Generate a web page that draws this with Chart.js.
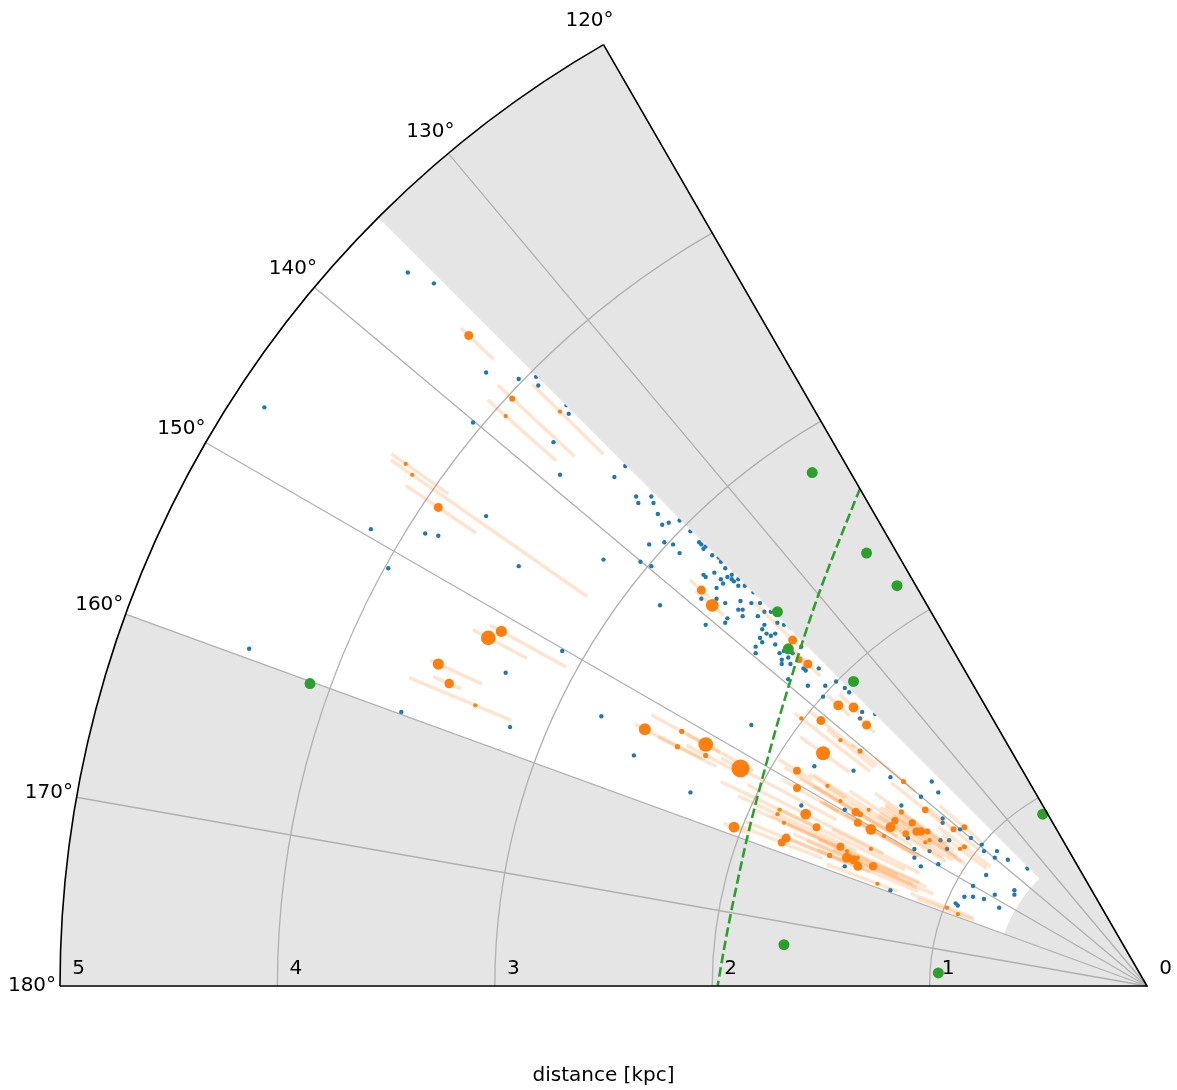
<!DOCTYPE html>
<html>
<head>
<meta charset="utf-8">
<script src="https://cdn.jsdelivr.net/npm/chart.js@4.4.0/dist/chart.umd.min.js"></script>
<style>
  html, body { margin: 0; padding: 0; background: #ffffff; overflow: hidden; }
  canvas { display: block; }
</style>
</head>
<body>
<canvas id="c" width="1177" height="1090"></canvas>
<script>
// Heliocentric positions in the Galactic plane, kpc: x = d cos l, y = d sin l

// field stars
const fieldX = [-3.40,-3.28,-4.06,-3.04,-2.89,-2.81,-2.80,-2.67,-2.66,-3.10,-2.73,-2.70,-3.57,-3.04,-3.32,-3.26,-3.49,-2.89,-4.13,-2.69,
  -2.95,-3.43,-2.93,-2.51,-2.45,-2.35,-2.28,-2.34,-2.27,-2.25,-2.20,-2.23,-2.10,-2.06,-2.05,-2.29,-2.22,-2.18,-2.04,-2.03,
  -2.15,-2.00,-1.97,-2.33,-2.28,-1.96,-1.94,-2.04,-2.03,-1.99,-1.96,-1.93,-1.91,-1.91,-1.88,-1.90,-1.95,-1.98,-1.88,-1.85,
  -1.81,-2.05,-1.98,-1.94,-1.87,-1.82,-2.24,-2.50,-2.03,-1.88,-1.86,-1.86,-1.93,-1.94,-1.78,-1.79,-1.76,-1.76,-1.77,-1.75,
  -1.78,-1.77,-1.73,-1.71,-1.70,-1.67,-1.71,-1.80,-1.80,-1.69,-1.63,-1.65,-1.59,-1.73,-1.67,-1.68,-1.68,-1.64,-1.58,-1.57,
  -1.51,-1.65,-1.56,-1.48,-1.43,-1.49,-1.39,-1.37,-1.42,-1.31,-1.32,-1.25,-1.53,-1.35,-1.18,-0.99,-0.96,-1.04,-1.82,-2.36,
  -2.10,-1.59,-1.39,-1.13,-0.94,-0.94,-0.86,-0.81,-1.10,-0.95,-0.91,-0.76,-0.75,-1.07,-1.00,-0.92,-0.69,-0.70,-0.64,-1.07,
  -0.96,-1.04,-1.39,-0.74,-0.55,-0.80,-0.70,-0.61,-0.61,-0.84,-0.80,-0.75,-1.18,-0.88,-0.87,-0.68,-2.15,-2.40];
const fieldY = [3.28,3.23,2.66,2.82,2.79,2.80,2.76,2.67,2.63,2.59,2.50,2.35,2.10,2.16,2.08,2.07,1.92,1.93,1.55,1.54,
  1.44,1.26,1.19,1.24,2.34,2.25,2.25,2.22,2.22,2.17,2.13,2.12,2.09,2.04,2.03,2.03,2.04,2.03,2.01,2.02,
  1.99,1.98,1.97,1.95,1.93,1.95,1.92,1.89,1.88,1.90,1.87,1.88,1.87,1.89,1.87,1.86,1.85,1.83,1.84,1.84,
  1.81,1.78,1.78,1.76,1.77,1.76,1.75,1.96,1.66,1.73,1.73,1.70,1.69,1.67,1.76,1.70,1.72,1.66,1.64,1.62,
  1.60,1.58,1.61,1.62,1.67,1.66,1.57,1.56,1.53,1.53,1.53,1.51,1.56,1.72,1.54,1.50,1.48,1.48,1.46,1.45,
  1.46,1.41,1.38,1.38,1.40,1.33,1.37,1.35,1.28,1.26,1.23,1.25,1.01,0.99,0.96,0.94,0.89,0.87,1.20,1.06,
  0.89,0.83,0.81,0.83,0.77,0.75,0.72,0.68,0.68,0.67,0.67,0.65,0.62,0.63,0.62,0.63,0.62,0.59,0.58,0.59,
  0.56,0.55,0.55,0.51,0.54,0.46,0.42,0.44,0.42,0.41,0.41,0.40,0.44,0.38,0.37,0.36,2.14,2.39];

// open clusters: position, distance uncertainty (kpc, towards / away from the Sun), number of members
const clusterX = [-3.12,-2.92,-2.95,-2.70,-3.41,-3.38,-3.26,-3.03,-2.97,-3.26,-3.21,-3.09,-2.31,-2.14,-2.03,-2.16,-2.03,-1.87,-1.90,-2.05,
  -2.00,-1.63,-1.60,-1.56,-1.42,-1.35,-1.29,-1.50,-1.59,-1.49,-1.41,-1.32,-1.61,-1.61,-1.47,-1.12,-1.41,-1.69,-1.70,-1.57,
  -1.67,-1.52,-1.34,-1.32,-1.33,-1.28,-1.27,-1.16,-1.18,-1.21,-1.66,-1.68,-1.41,-1.38,-1.38,-1.35,-1.33,-1.26,-1.46,-1.33,
  -1.27,-1.24,-1.13,-1.02,-1.08,-1.11,-1.06,-1.04,-1.01,-0.89,-0.84,-0.84,-0.86,-1.00,-1.02,-0.92,-0.87];
const clusterY = [2.99,2.70,2.62,2.64,2.40,2.35,2.20,1.60,1.63,1.48,1.39,1.29,1.18,1.17,1.11,1.10,1.06,1.00,0.73,1.82,
  1.75,1.59,1.50,1.48,1.29,1.28,1.20,1.22,1.23,1.07,1.13,1.08,0.99,0.91,0.92,0.94,0.85,0.81,0.79,0.79,
  0.75,0.73,0.80,0.79,0.75,0.81,0.72,0.76,0.73,0.69,0.68,0.66,0.64,0.62,0.59,0.58,0.55,0.55,0.60,0.59,
  0.63,0.47,0.80,0.81,0.75,0.70,0.71,0.71,0.71,0.72,0.73,0.64,0.63,0.67,0.66,0.36,0.33];
const clusterErrLo = [0.16,0.39,0.31,0.28,0.24,0.98,0.21,0.20,0.34,0.22,0.06,0.18,0.30,0.20,0.25,0.20,0.15,0.50,0.08,0.05,
  0.07,0.05,0.05,0.08,0.07,0.04,0.05,0.20,0.40,0.15,0.20,0.10,0.08,0.22,0.10,0.07,0.25,0.20,0.40,0.40,
  0.30,0.45,0.30,0.20,0.30,0.20,0.25,0.20,0.30,0.20,0.30,0.20,0.40,0.40,0.35,0.40,0.30,0.20,0.20,0.20,
  0.25,0.10,0.25,0.10,0.20,0.20,0.25,0.20,0.15,0.15,0.10,0.15,0.15,0.20,0.15,0.13,0.08];
const clusterErrHi = [0.05,0.09,0.11,0.18,0.08,0.12,0.18,0.08,0.06,0.04,0.08,0.33,0.05,0.16,0.10,0.10,0.10,0.10,0.05,0.07,
  0.10,0.25,0.05,0.10,0.07,0.09,0.05,0.08,0.04,0.13,0.08,0.05,0.10,0.08,0.10,0.17,0.30,0.30,0.20,0.30,
  0.15,0.20,0.30,0.25,0.20,0.30,0.25,0.25,0.35,0.20,0.20,0.20,0.35,0.30,0.20,0.30,0.20,0.20,0.20,0.20,
  0.20,0.25,0.15,0.20,0.15,0.15,0.20,0.20,0.15,0.15,0.15,0.15,0.10,0.20,0.25,0.18,0.20];
const clusterMembers = [9,4,2,2,2,2,9,24,14,14,10,2,16,3,24,3,3,36,13,9,
  18,9,5,9,11,11,9,9,2,22,2,3,7,7,2,3,2,2,2,13,
  2,7,8,4,7,2,13,6,11,2,9,7,7,2,11,9,9,8,3,2,
  2,2,3,5,6,5,8,8,4,4,4,3,2,2,2,2,2];

// masers
const maserX = [-1.54,-1.29,-1.15,-1.70,-1.65,-1.35,-0.48,-1.67,-0.96,-3.85];
const maserY = [2.36,1.99,1.84,1.72,1.55,1.40,0.79,0.19,0.06,1.39];

// Perseus arm trace: longitude (deg) and heliocentric distance (kpc)
const armLon  = [120, 125, 130, 135, 140, 145, 150, 155, 160, 165, 170, 175, 180];
const armDist = [2.64, 2.48, 2.35, 2.24, 2.15, 2.08, 2.025, 1.986, 1.96, 1.945, 1.943, 1.953, 1.975];

// survey footprint (longitude and distance limits)
const surveyLon = [135, 160];
const surveyDist = [0.7, 5];

// axes
const lonTicks = [120, 130, 140, 150, 160, 170, 180];
const distTicks = [0, 1, 2, 3, 4, 5];
const lonRange = [120, 180];
const distMax = 5;

const FONT = '20px "DejaVu Sans", "Liberation Sans", sans-serif';
const rad = a => a * Math.PI / 180;

function frame(chart) {
  const { x, y } = chart.scales;
  const cx = x.getPixelForValue(0), cy = y.getPixelForValue(0);
  const k = cx - x.getPixelForValue(-1);
  return { cx, cy, k };
}

function footprintPath(ctx, f) {
  ctx.beginPath();
  ctx.arc(f.cx, f.cy, surveyDist[1] * f.k, -rad(surveyLon[0]), -rad(surveyLon[1]), true);
  ctx.arc(f.cx, f.cy, surveyDist[0] * f.k, -rad(surveyLon[1]), -rad(surveyLon[0]), false);
  ctx.closePath();
}

const polarFrame = {
  id: 'polarFrame',
  beforeDatasetsDraw(chart) {
    const ctx = chart.ctx, f = frame(chart);
    const R = distMax * f.k;
    ctx.save();
    // sector background
    ctx.beginPath();
    ctx.moveTo(f.cx, f.cy);
    ctx.arc(f.cx, f.cy, R, -rad(lonRange[0]), -rad(lonRange[1]), true);
    ctx.closePath();
    ctx.fillStyle = '#e5e5e5';
    ctx.fill();
    // surveyed area
    footprintPath(ctx, f);
    ctx.fillStyle = '#ffffff';
    ctx.fill();
    // grid
    ctx.strokeStyle = '#b0b0b0';
    ctx.lineWidth = 1.3;
    distTicks.filter(d => d > 0 && d < distMax).forEach(d => {
      ctx.beginPath();
      ctx.arc(f.cx, f.cy, d * f.k, -rad(lonRange[0]), -rad(lonRange[1]), true);
      ctx.stroke();
    });
    lonTicks.filter(l => l > lonRange[0] && l < lonRange[1]).forEach(l => {
      ctx.beginPath();
      ctx.moveTo(f.cx, f.cy);
      ctx.lineTo(f.cx + R * Math.cos(rad(l)), f.cy - R * Math.sin(rad(l)));
      ctx.stroke();
    });
    ctx.restore();
  },
  beforeDatasetDraw(chart, args) {
    if (chart.data.datasets[args.index].id === 'field') {
      const ctx = chart.ctx;
      ctx.save();
      footprintPath(ctx, frame(chart));
      ctx.clip();
    }
  },
  afterDatasetDraw(chart, args) {
    if (chart.data.datasets[args.index].id === 'field') chart.ctx.restore();
  },
  afterDatasetsDraw(chart) {
    const ctx = chart.ctx, f = frame(chart);
    const R = distMax * f.k;
    ctx.save();
    // spines
    ctx.strokeStyle = '#000000';
    ctx.lineWidth = 1.6;
    ctx.beginPath();
    ctx.moveTo(f.cx + R * Math.cos(rad(lonRange[0])), f.cy - R * Math.sin(rad(lonRange[0])));
    ctx.lineTo(f.cx, f.cy);
    ctx.lineTo(f.cx + R * Math.cos(rad(lonRange[1])), f.cy - R * Math.sin(rad(lonRange[1])));
    ctx.stroke();
    ctx.beginPath();
    ctx.arc(f.cx, f.cy, R, -rad(lonRange[0]), -rad(lonRange[1]), true);
    ctx.stroke();
    // tick labels
    ctx.fillStyle = '#000000';
    ctx.font = FONT;
    ctx.textAlign = 'center';
    ctx.textBaseline = 'middle';
    lonTicks.forEach(l => {
      const rr = R + 28;
      ctx.fillText(l + '°', f.cx + rr * Math.cos(rad(l)), f.cy - rr * Math.sin(rad(l)));
    });
    distTicks.forEach(d => {
      ctx.fillText(String(d), f.cx - d * f.k + 18.5, f.cy - 17);
    });
    const ca = chart.chartArea;
    ctx.fillText('distance [kpc]', (ca.left + ca.right) / 2, 1076);
    ctx.restore();
  }
};

const fieldData = fieldX.map((v, i) => ({ x: v, y: fieldY[i] }));
const clusterData = clusterX.map((v, i) => ({ x: v, y: clusterY[i] }));
const maserData = maserX.map((v, i) => ({ x: v, y: maserY[i] }));
const armData = armLon.map((l, i) => ({ x: armDist[i] * Math.cos(rad(l)), y: armDist[i] * Math.sin(rad(l)) }));

// distance error bars along the line of sight
const errorSets = clusterX.map((cxv, i) => {
  const cyv = clusterY[i];
  const d = Math.hypot(cxv, cyv);
  const a = (d - clusterErrLo[i]) / d, b = (d + clusterErrHi[i]) / d;
  return {
    id: 'err' + i,
    showLine: true,
    data: [{ x: cxv * a, y: cyv * a }, { x: cxv * b, y: cyv * b }],
    borderColor: 'rgba(255,127,14,0.2)',
    borderWidth: 3.5,
    borderCapStyle: 'butt',
    pointRadius: 0,
    order: 4,
    clip: false
  };
});

new Chart(document.getElementById('c'), {
  type: 'scatter',
  data: {
    datasets: [
      { id: 'masers', data: maserData, backgroundColor: '#2ca02c', borderWidth: 0, pointRadius: 5.5, order: 0, clip: false },
      { id: 'arm', data: armData, showLine: true, borderColor: '#2ca02c', borderWidth: 2.6,
        borderDash: [9.5, 4], tension: 0.3, pointRadius: 0, order: 1, clip: false },
      { id: 'clusters', data: clusterData, backgroundColor: '#ff7f0e', borderWidth: 0,
        pointRadius: clusterMembers.map(n => 1.5 * Math.sqrt(n)), order: 2, clip: false },
      ...errorSets,
      { id: 'field', data: fieldData, backgroundColor: '#1f77b4', borderWidth: 0, pointRadius: 2.2, order: 5, clip: false }
    ]
  },
  options: {
    responsive: false,
    animation: false,
    events: [],
    layout: { padding: { left: 60, right: 30, top: 44, bottom: 104 } },
    scales: {
      x: { type: 'linear', min: -distMax, max: 0, display: false },
      y: { type: 'linear', min: 0, max: distMax * Math.sin(rad(60)), display: false }
    },
    plugins: { legend: { display: false }, tooltip: { enabled: false } }
  },
  plugins: [polarFrame]
});
</script>
</body>
</html>
